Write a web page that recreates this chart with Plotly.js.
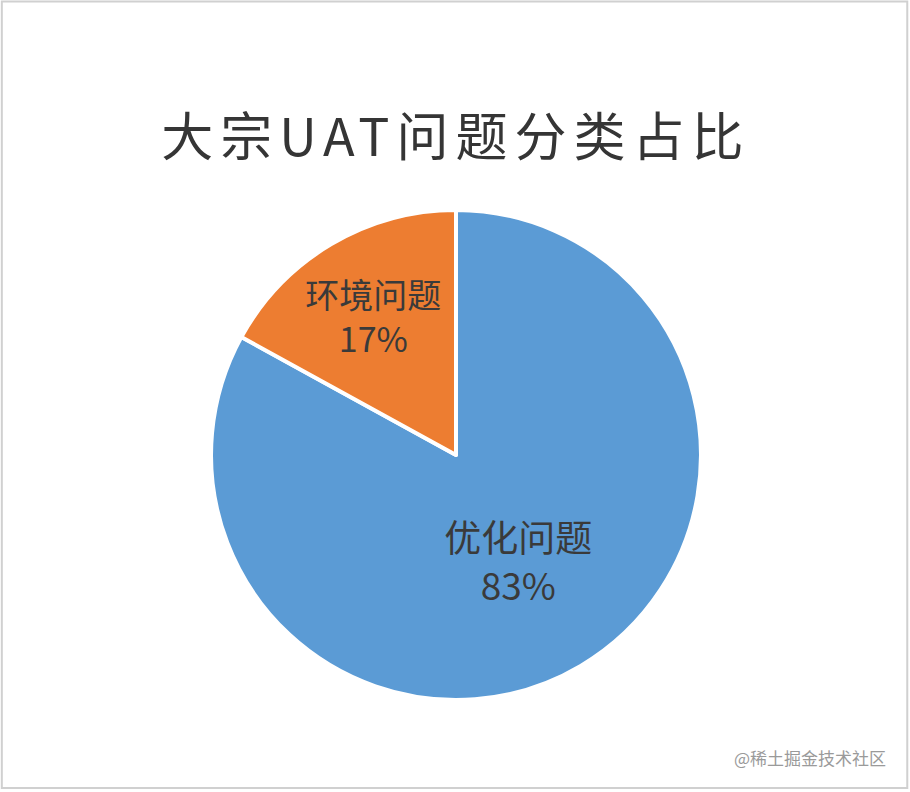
<!DOCTYPE html>
<html>
<head>
<meta charset="utf-8">
<script src="https://cdn.plot.ly/plotly-3.0.1.min.js"></script>
<style>
html,body{margin:0;padding:0;background:#fff;}
#chart{width:910px;height:792px;}
#chart .gtitle{letter-spacing:7px;}
</style>
</head>
<body>
<div id="chart"></div>
<script>
const categories = ["优化问题", "环境问题"];
const values = [83, 17];
const sliceColors = ["#5B9BD5", "#ED7D31"];
const titleText = "大宗UAT问题分类占比";
const watermark = "@稀土掘金技术社区";

const FONT = '"Noto Sans CJK SC", "Noto Sans", sans-serif';

const data = [{
  type: "pie",
  labels: categories,
  values: values,
  sort: false,
  direction: "clockwise",
  rotation: 0,
  marker: { colors: sliceColors, line: { color: "#ffffff", width: 4 } },
  textinfo: "label+percent",
  textposition: "inside",
  insidetextorientation: "horizontal",
  texttemplate: "%{label}<br>%{percent:.0%}",
  textfont: { family: FONT, size: 37, color: "#3a3a3a" },
  hoverinfo: "none",
  domain: { x: [0.2319, 0.7703], y: [0.1162, 0.7348] },
  showlegend: false
}];

const layout = {
  width: 910,
  height: 792,
  margin: { l: 0, r: 0, t: 0, b: 0 },
  paper_bgcolor: "#ffffff",
  title: {
    text: titleText,
    x: 0.501,
    xanchor: "center",
    y: 0.826,
    yanchor: "middle",
    font: { family: FONT, size: 52, color: "#353535" }
  },
  shapes: [{
    type: "rect", xref: "paper", yref: "paper",
    x0: 0.002, x1: 0.997, y0: 0.005, y1: 0.998,
    line: { color: "#d0d0d0", width: 2 }
  }],
  annotations: [{
    text: watermark, xref: "paper", yref: "paper",
    x: 0.976, y: 0.044, xanchor: "right", yanchor: "middle",
    showarrow: false,
    font: { family: FONT, size: 17, color: "#9a9a9a" }
  }]
};

Plotly.newPlot("chart", data, layout, { displayModeBar: false, staticPlot: true });
</script>
</body>
</html>
